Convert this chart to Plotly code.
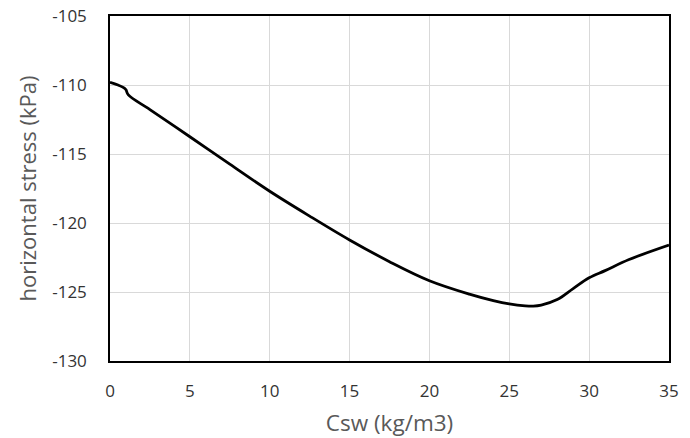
import plotly.graph_objects as go

# Horizontal stress versus Csw
csw = [0, 0.5, 0.9, 1.0, 1.15, 2.5, 5, 7.5, 10, 12.5, 15, 17.5, 20, 22.5,
       24, 25, 26, 26.5, 27, 28, 29, 30, 31, 32.5, 35]
stress = [-109.8, -110.0, -110.22, -110.35, -110.72, -111.78, -113.75, -115.74,
          -117.7, -119.5, -121.23, -122.8, -124.18, -125.15, -125.62, -125.86,
          -126.0, -126.02, -125.95, -125.55, -124.75, -123.97, -123.45, -122.65, -121.6]

x_ticks = [0, 5, 10, 15, 20, 25, 30, 35]
y_ticks = [-130, -125, -120, -115, -110, -105]

font_family = "Open Sans, Liberation Sans, sans-serif"

fig = go.Figure()
fig.add_trace(go.Scatter(
    x=csw, y=stress, mode="lines",
    line=dict(color="black", width=2.8, shape="spline", smoothing=1.0),
    showlegend=False, hoverinfo="skip",
))

fig.update_layout(
    width=690, height=438,
    margin=dict(l=110, r=21, t=16, b=77),
    paper_bgcolor="white", plot_bgcolor="white",
    font=dict(family=font_family, size=17, color="#333333"),
)

fig.update_xaxes(
    range=[0, 35], tickvals=x_ticks, ticktext=[str(v) for v in x_ticks],
    showgrid=True, gridcolor="#d9d9d9", gridwidth=1,
    showline=True, linecolor="black", linewidth=1.5, mirror=True,
    ticks="", ticklabelstandoff=14, zeroline=False, automargin=False,
    title=dict(text="Csw (kg/m3)", font=dict(size=22.5, color="#595959"), standoff=16),
)
fig.update_yaxes(
    range=[-130, -105], tickvals=y_ticks, ticktext=[str(v) for v in y_ticks],
    showgrid=True, gridcolor="#d9d9d9", gridwidth=1,
    showline=True, linecolor="black", linewidth=1.5, mirror=True,
    ticks="", ticklabelstandoff=18, zeroline=False, automargin=False,
    title=dict(text="horizontal stress (kPa)", font=dict(size=22, color="#595959"), standoff=10),
)

fig.write_html("out.html")
